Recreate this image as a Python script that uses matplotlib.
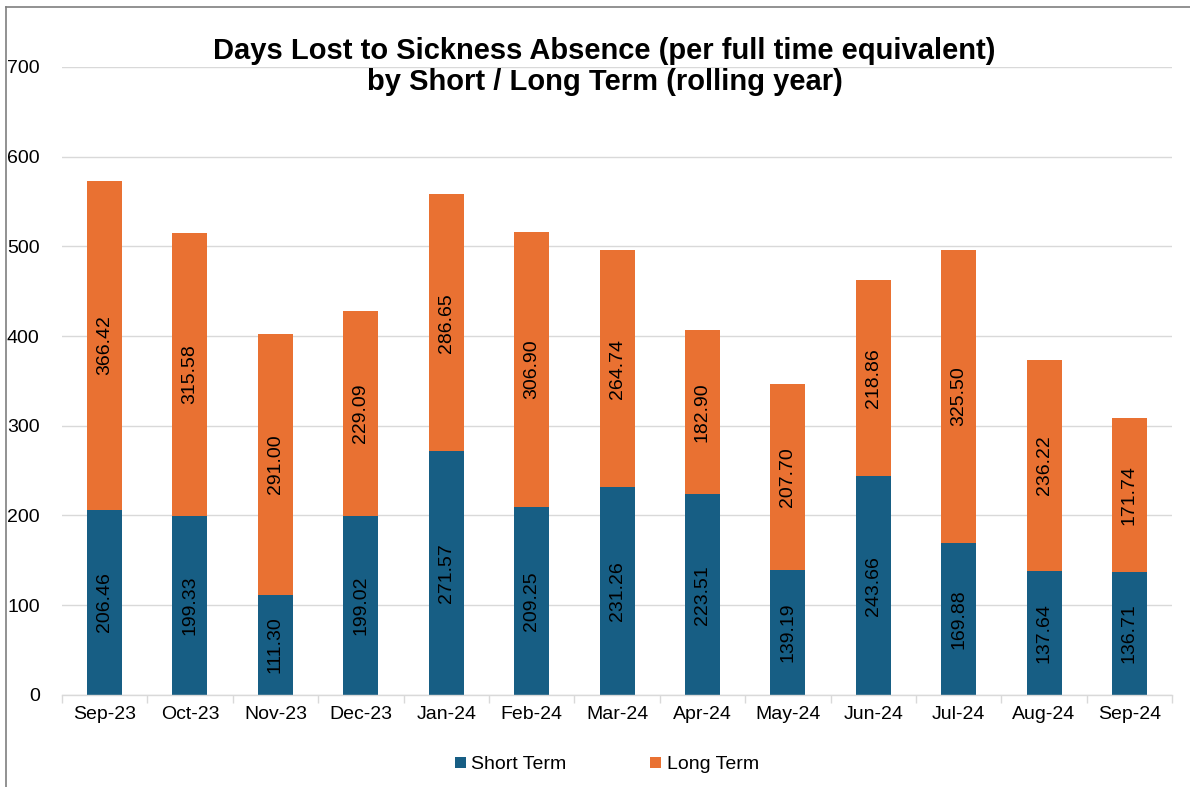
import matplotlib
matplotlib.use('Agg')
import matplotlib.pyplot as plt
from matplotlib.lines import Line2D
import numpy as np

plt.rcParams['font.family'] = ['Liberation Sans', 'DejaVu Sans']

# values
months = ['Sep-23', 'Oct-23', 'Nov-23', 'Dec-23', 'Jan-24', 'Feb-24', 'Mar-24',
          'Apr-24', 'May-24', 'Jun-24', 'Jul-24', 'Aug-24', 'Sep-24']
short_term = [206.46, 199.33, 111.30, 199.02, 271.57, 209.25, 231.26,
              223.51, 139.19, 243.66, 169.88, 137.64, 136.71]
long_term = [366.42, 315.58, 291.00, 229.09, 286.65, 306.90, 264.74,
             182.90, 207.70, 218.86, 325.50, 236.22, 171.74]

blue = '#175e84'
orange = '#e97132'
grid_col = '#d9d9d9'

fig = plt.figure(figsize=(11.9, 7.87), dpi=100)
ax = fig.add_axes([0.052, 0.117, 0.933, 0.798])

x = np.arange(len(months))
w = 0.41
b1 = ax.bar(x, short_term, w, color=blue, label='Short Term', zorder=3)
b2 = ax.bar(x, long_term, w, bottom=short_term, color=orange, label='Long Term', zorder=3)

for i in range(len(months)):
    ax.text(x[i], short_term[i] / 2, f'{short_term[i]:.2f}', rotation=90,
            ha='center', va='center', fontsize=14, zorder=4)
    ax.text(x[i], short_term[i] + long_term[i] / 2, f'{long_term[i]:.2f}', rotation=90,
            ha='center', va='center', fontsize=14, zorder=4)

ax.set_ylim(0, 700)
ax.set_xlim(-0.5, len(months) - 0.5)
ax.set_yticks(range(0, 701, 100))
ax.set_xticks(x)
ax.set_xticklabels(months)
ax.set_xticks(np.arange(-0.5, len(months), 1), minor=True)
ax.tick_params(axis='x', which='major', length=0, labelsize=14, pad=8)
ax.tick_params(axis='x', which='minor', length=6, color=grid_col, width=1)
ax.tick_params(axis='y', length=0, labelsize=14, pad=16)
ax.yaxis.grid(True, color=grid_col, linewidth=1, zorder=0)
for s in ['top', 'right', 'left']:
    ax.spines[s].set_visible(False)
ax.spines['bottom'].set_color(grid_col)
ax.spines['bottom'].set_linewidth(1)
ax.spines['bottom'].set_zorder(5)

fig.text(0.508, 0.953, 'Days Lost to Sickness Absence (per full time equivalent)\nby Short / Long Term (rolling year)',
         ha='center', va='top', fontsize=21, fontweight='bold', linespacing=1.15)

fig.legend(handles=[b1, b2], loc='center', bbox_to_anchor=(0.51, 0.028), ncol=2,
           frameon=False, fontsize=14, handlelength=0.55, handleheight=0.55,
           handletextpad=0.3, columnspacing=4.3)

# chart frame
fig.add_artist(Line2D([0.005, 0.005], [0.0, 0.991], transform=fig.transFigure,
                      color='#7f7f7f', linewidth=1.2))
fig.add_artist(Line2D([0.005, 1.0], [0.991, 0.991], transform=fig.transFigure,
                      color='#7f7f7f', linewidth=1.2))

fig.savefig('out.png', dpi=100)
